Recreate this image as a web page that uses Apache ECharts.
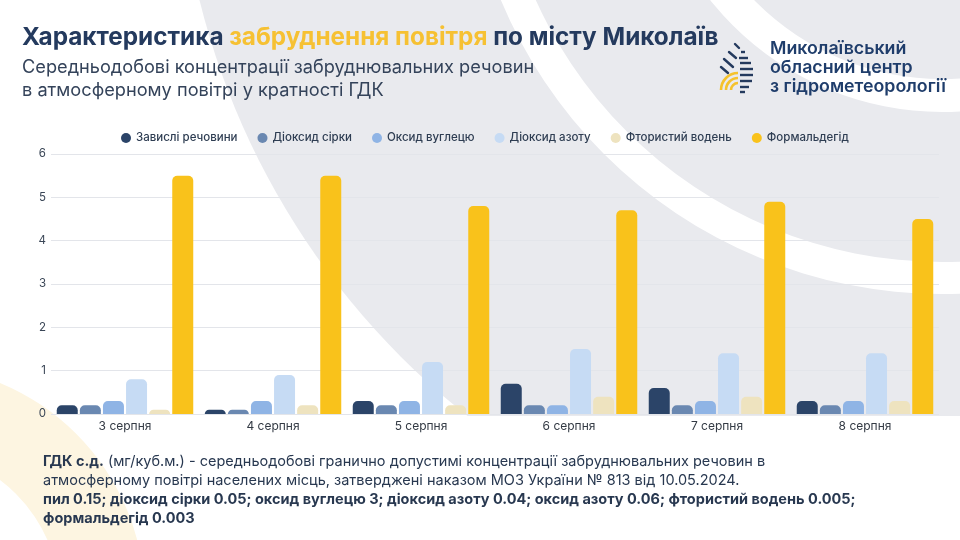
<!DOCTYPE html>
<html>
<head>
<meta charset="utf-8">
<script src="https://cdn.jsdelivr.net/npm/echarts@6/dist/echarts.min.js"></script>
<style>
  html, body { margin: 0; padding: 0; background: #fff; }
  #chart { width: 960px; height: 540px; }
</style>
</head>
<body>
<div id="chart"></div>
<script>
// дані з графіка (кратність ГДК)
const days = ['3 серпня', '4 серпня', '5 серпня', '6 серпня', '7 серпня', '8 серпня']
const suspended = [0.2, 0.1, 0.3, 0.7, 0.6, 0.3]
const sulfurDioxide = [0.2, 0.1, 0.2, 0.2, 0.2, 0.2]
const carbonMonoxide = [0.3, 0.3, 0.3, 0.2, 0.3, 0.3]
const nitrogenDioxide = [0.8, 0.9, 1.2, 1.5, 1.4, 1.4]
const hydrogenFluoride = [0.1, 0.2, 0.2, 0.4, 0.4, 0.3]
const formaldehyde = [5.5, 5.5, 4.8, 4.7, 4.9, 4.5]
const yTicks = [0, 1, 2, 3, 4, 5, 6]

const seriesList = [
  { name: 'Завислі речовини', data: suspended, color: '#2b4468' },
  { name: 'Діоксид сірки', data: sulfurDioxide, color: '#6a88b1' },
  { name: 'Оксид вуглецю', data: carbonMonoxide, color: '#8fb4e5' },
  { name: 'Діоксид азоту', data: nitrogenDioxide, color: '#c6dbf4' },
  { name: 'Фтористий водень', data: hydrogenFluoride, color: '#eee3bf' },
  { name: 'Формальдегід', data: formaldehyde, color: '#f9c21b' }
]

const font = 'Inter, "Noto Sans", sans-serif'
const navy = '#243a5e'

// фон: сірий круг з білими дугами, жовта дуга знизу ліворуч
const bg = [
  { type: 'circle', z: -100, silent: true, shape: { cx: 942, cy: -184, r: 765 }, style: { fill: '#e9eaee' } },
  { type: 'ring', z: -99, silent: true, shape: { cx: 942, cy: -184, r: 478, r0: 446 }, style: { fill: '#ffffff' } },
  { type: 'ring', z: -99, silent: true, shape: { cx: 942, cy: -184, r: 296, r0: 263 }, style: { fill: '#ffffff' } },
  { type: 'rect', z: -98, silent: true, shape: { x: 0, y: 416, width: 960, height: 124 }, style: { fill: '#ffffff' } },
  { type: 'ring', z: -97, silent: true, shape: { cx: -90, cy: 600, r: 235, r0: 150 }, style: { fill: '#fdf5e1' } }
]

// логотип (спрощено)
const logo = []
const yellowArcs = [7, 12, 17]
yellowArcs.forEach((r) => {
  logo.push({ type: 'arc', silent: true, shape: { cx: 738, cy: 90, r: r, startAngle: Math.PI, endAngle: Math.PI * 1.5 },
    style: { stroke: '#f5c22c', lineWidth: 2.6, fill: null } })
})
const stripes = [[741, 52, 745], [739, 58, 748], [740, 63, 751], [740, 69, 753], [740, 75, 753], [740, 81, 752], [740, 87, 749], [740, 92, 745]]
stripes.forEach(([x1, y, x2]) => {
  logo.push({ type: 'line', silent: true, shape: { x1: x1, y1: y, x2: x2, y2: y }, style: { stroke: navy, lineWidth: 2.4 } })
})
const diag = [[735, 44, 739, 48], [729, 52, 736, 58], [724, 59, 733, 67], [721, 67, 728, 73]]
diag.forEach(([x1, y1, x2, y2]) => {
  logo.push({ type: 'line', silent: true, shape: { x1: x1, y1: y1, x2: x2, y2: y2 }, style: { stroke: navy, lineWidth: 2.4, lineCap: 'round' } })
})

const chart = echarts.init(document.getElementById('chart'))
chart.setOption({
  backgroundColor: '#ffffff',
  textStyle: { fontFamily: font },
  graphic: bg.concat(logo),
  title: [
    {
      left: 17, top: 21,
      text: '{a|Характеристика }{b|забруднення повітря}{a| по місту Миколаїв}',
      textStyle: {
        rich: {
          a: { fontFamily: font, fontSize: 24.3, fontWeight: 700, color: navy },
          b: { fontFamily: font, fontSize: 24.3, fontWeight: 700, color: '#f6c133' }
        }
      }
    },
    {
      left: 17, top: 51,
      text: 'Середньодобові концентрації забруднювальних речовин\nв атмосферному повітрі у кратності ГДК',
      textStyle: { fontFamily: font, fontSize: 18.2, fontWeight: 400, color: '#34435a', lineHeight: 23 }
    },
    {
      left: 765, top: 34,
      text: 'Миколаївський\nобласний центр\nз гідрометеорології',
      textStyle: { fontFamily: font, fontSize: 17.8, fontWeight: 600, color: '#1f3d6b', lineHeight: 19 }
    },
    {
      left: 38, top: 447,
      text: '{b|ГДК с.д.}{r| (мг/куб.м.) - середньодобові гранично допустимі концентрації забруднювальних речовин в}\n' +
        '{r|атмосферному повітрі населених місць, затверджені наказом МОЗ України № 813 від 10.05.2024.}\n' +
        '{b|пил 0.15; діоксид сірки 0.05; оксид вуглецю 3; діоксид азоту 0.04; оксид азоту 0.06; фтористий водень 0.005;}\n' +
        '{b|формальдегід 0.003}',
      textStyle: {
        rich: {
          b: { fontFamily: font, fontSize: 14.5, fontWeight: 700, color: '#283850', lineHeight: 19 },
          r: { fontFamily: font, fontSize: 14.5, fontWeight: 400, color: '#283850', lineHeight: 19 }
        }
      }
    }
  ],
  legend: {
    top: 127,
    left: 116,
    icon: 'circle',
    itemWidth: 10,
    itemHeight: 10,
    itemGap: 20,
    textStyle: { fontFamily: font, fontSize: 11.5, fontWeight: 500, color: '#2e3d52' },
    data: seriesList.map((s) => s.name)
  },
  grid: { left: 51, right: 21, top: 154, bottom: 126, containLabel: false },
  xAxis: {
    type: 'category',
    data: days,
    axisLine: { show: false },
    axisTick: { show: false },
    axisLabel: { fontSize: 12, color: '#333a44', margin: 6, fontFamily: font }
  },
  yAxis: {
    type: 'value',
    min: yTicks[0],
    max: yTicks[yTicks.length - 1],
    interval: 1,
    axisLabel: { fontSize: 11.5, color: '#3a4656', margin: 5, fontFamily: font },
    splitLine: { lineStyle: { color: '#e3e5ea', width: 1 } }
  },
  series: seriesList.map((s) => ({
    name: s.name,
    type: 'bar',
    data: s.data,
    barWidth: 21,
    barGap: '10%',
    itemStyle: { color: s.color, borderRadius: [5, 5, 0, 0] }
  }))
})
</script>
</body>
</html>
